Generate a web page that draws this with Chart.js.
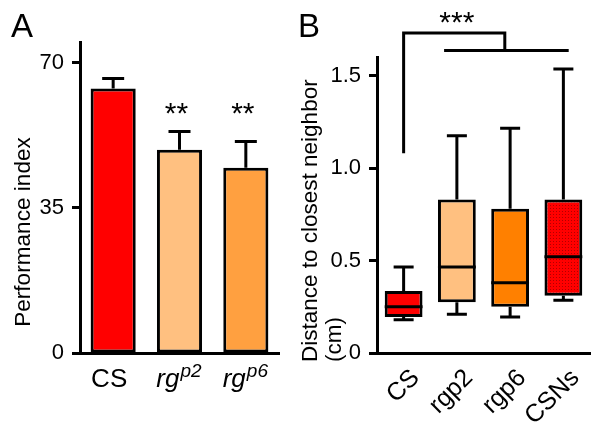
<!DOCTYPE html>
<html>
<head>
<meta charset="utf-8">
<script src="https://cdn.jsdelivr.net/npm/chart.js@4.4.0/dist/chart.umd.min.js"></script>
<style>
    html, body { margin: 0; padding: 0; background: #fff; }
    #wrap { position: relative; width: 602px; height: 434px; }
    canvas { position: absolute; top: 0; }
    #perfChart { left: 0; }
    #distChart { left: 300px; }
</style>
</head>
<body>
<div id="wrap">
    <canvas id="perfChart" width="300" height="434"></canvas>
    <canvas id="distChart" width="302" height="434"></canvas>
</div>
<script>
// panel A - performance index (mean + sem)
const perfBase = ['CS', 'rg', 'rg'];
const perfSup = ['', 'p2', 'p6'];
const perfMean = [63.8, 49.0, 44.7];
const perfSem = [2.4, 4.4, 6.3];
const perfStars = ['', '**', '**'];
const perfTicks = [0, 35, 70];
const perfColors = ['#ff0000', '#ffc080', '#ffa040'];

// panel B - distance to closest neighbor (box plot)
const distLabels = ['CS', 'rgp2', 'rgp6', 'CSNs'];
const distMin = [0.18, 0.21, 0.195, 0.285];
const distQ1 = [0.195, 0.275, 0.25, 0.31];
const distMedian = [0.25, 0.465, 0.38, 0.52];
const distQ3 = [0.335, 0.83, 0.78, 0.83];
const distMax = [0.465, 1.175, 1.215, 1.535];
const distTicks = [0, 0.5, 1.0, 1.5];
const distColors = ['#ff0000', '#ffc080', '#ff8000', 'dots'];

// significance bracket (category index / value units)
const sigLeft = 0, sigJoin = 1.9, sigFrom = 0.76, sigTo = 3.1;
const sigTop = 1.73, sigBar = 1.635, sigDrop = 1.08, sigText = '***';

const FONT = '"Liberation Sans", Arial, sans-serif';
Chart.defaults.font.family = FONT;
Chart.defaults.color = '#000';

function dotPattern(ctx) {
    const c = document.createElement('canvas');
    c.width = 3; c.height = 3;
    const g = c.getContext('2d');
    g.fillStyle = '#ff0000';
    g.fillRect(0, 0, 3, 3);
    g.fillStyle = '#b00000';
    g.fillRect(1, 1, 1, 1);
    return ctx.createPattern(c, 'repeat');
}

const perfExtras = {
    id: 'perfExtras',
    afterDatasetsDraw(chart) {
        const ctx = chart.ctx;
        const y = chart.scales.y;
        const x = chart.scales.x;
        const bars = chart.getDatasetMeta(0).data;
        ctx.save();
        ctx.strokeStyle = '#000';
        ctx.fillStyle = '#000';
        ctx.lineWidth = 3;
        bars.forEach((bar, i) => {
            const top = y.getPixelForValue(perfMean[i] + perfSem[i]);
            ctx.beginPath();
            ctx.moveTo(bar.x, bar.y);
            ctx.lineTo(bar.x, top);
            ctx.moveTo(bar.x - 11, top);
            ctx.lineTo(bar.x + 11, top);
            ctx.stroke();

            if (perfStars[i]) {
                ctx.font = '30px ' + FONT;
                ctx.textAlign = 'center';
                ctx.textBaseline = 'alphabetic';
                ctx.fillText(perfStars[i], bar.x - 3, 123);
            }

            // category label with italic superscript
            const cx = x.getPixelForTick(i) - (perfSup[i] ? 1 : 4);
            const baseFont = (perfSup[i] ? 'italic ' : '') + '26px ' + FONT;
            const supFont = 'italic 19px ' + FONT;
            ctx.font = baseFont;
            const wb = ctx.measureText(perfBase[i]).width;
            ctx.font = supFont;
            const ws = perfSup[i] ? ctx.measureText(perfSup[i]).width : 0;
            const start = cx - (wb + ws) / 2;
            ctx.textAlign = 'left';
            ctx.font = baseFont;
            ctx.fillText(perfBase[i], start, 387);
            if (perfSup[i]) {
                ctx.font = supFont;
                ctx.fillText(perfSup[i], start + wb + 1, 377);
            }
        });

        // axis title
        ctx.save();
        ctx.translate(30, 232);
        ctx.rotate(-Math.PI / 2);
        ctx.font = '22.6px ' + FONT;
        ctx.textAlign = 'center';
        ctx.textBaseline = 'alphabetic';
        ctx.fillText('Performance index', 0, 0);
        ctx.restore();

        // panel letter
        ctx.font = '33px ' + FONT;
        ctx.textAlign = 'left';
        ctx.fillText('A', 11, 37);
        ctx.restore();
    }
};

const distExtras = {
    id: 'distExtras',
    afterDatasetsDraw(chart) {
        const ctx = chart.ctx;
        const y = chart.scales.y;
        const x = chart.scales.x;
        const boxes = chart.getDatasetMeta(0).data;
        ctx.save();
        ctx.strokeStyle = '#000';
        ctx.fillStyle = '#000';
        ctx.lineWidth = 3;
        boxes.forEach((box, i) => {
            const half = box.width / 2;
            const yMed = y.getPixelForValue(distMedian[i]);
            const yQ1 = y.getPixelForValue(distQ1[i]);
            const yQ3 = y.getPixelForValue(distQ3[i]);
            const yMin = y.getPixelForValue(distMin[i]);
            const yMax = y.getPixelForValue(distMax[i]);
            ctx.beginPath();
            ctx.moveTo(box.x - half, yMed);
            ctx.lineTo(box.x + half, yMed);
            ctx.moveTo(box.x, yQ3);
            ctx.lineTo(box.x, yMax);
            ctx.moveTo(box.x - 10, yMax);
            ctx.lineTo(box.x + 10, yMax);
            ctx.moveTo(box.x, yQ1);
            ctx.lineTo(box.x, yMin);
            ctx.moveTo(box.x - 10, yMin);
            ctx.lineTo(box.x + 10, yMin);
            ctx.stroke();

            // rotated category label
            ctx.save();
            ctx.translate(x.getPixelForTick(i) + 17, 379);
            ctx.rotate(-Math.PI / 4);
            ctx.font = '25px ' + FONT;
            ctx.textAlign = 'right';
            ctx.textBaseline = 'alphabetic';
            ctx.fillText(distLabels[i], 0, 0);
            ctx.restore();
        });

        // significance bracket
        const xl = x.getPixelForValue(sigLeft);
        const xj = x.getPixelForValue(sigJoin);
        const xf = x.getPixelForValue(sigFrom);
        const xt = x.getPixelForValue(sigTo);
        const yt = y.getPixelForValue(sigTop);
        const yb = y.getPixelForValue(sigBar);
        const yd = y.getPixelForValue(sigDrop);
        ctx.beginPath();
        ctx.moveTo(xl, yd);
        ctx.lineTo(xl, yt);
        ctx.lineTo(xj, yt);
        ctx.lineTo(xj, yb);
        ctx.moveTo(xf, yb);
        ctx.lineTo(xt, yb);
        ctx.stroke();
        ctx.font = '30px ' + FONT;
        ctx.textAlign = 'center';
        ctx.textBaseline = 'alphabetic';
        ctx.fillText(sigText, x.getPixelForValue(1), 32);

        // axis title, two lines
        ctx.save();
        ctx.translate(0, 362);
        ctx.rotate(-Math.PI / 2);
        ctx.font = '22.5px ' + FONT;
        ctx.textAlign = 'left';
        ctx.fillText('Distance to closest neighbor', 0, 17);
        ctx.fillText('(cm)', 0, 41);
        ctx.restore();

        // panel letter
        ctx.font = '33px ' + FONT;
        ctx.textAlign = 'left';
        ctx.fillText('B', -2, 37);
        ctx.restore();
    }
};

new Chart(document.getElementById('perfChart'), {
    type: 'bar',
    data: {
        labels: perfBase.map((b, i) => b + perfSup[i]),
        datasets: [{
            data: perfMean,
            backgroundColor: perfColors,
            borderColor: '#000',
            borderWidth: 3,
            borderSkipped: false,
            barPercentage: 0.68,
            categoryPercentage: 1
        }]
    },
    options: {
        responsive: false,
        animation: false,
        layout: { padding: { left: 0, right: 21, top: 42, bottom: 0 } },
        plugins: { legend: { display: false }, tooltip: { enabled: false } },
        scales: {
            x: {
                grid: { display: false },
                border: { color: '#000', width: 3 },
                ticks: { display: false },
                afterFit: function (s) { s.height = 81; }
            },
            y: {
                min: 0,
                max: 75,
                afterBuildTicks: function (s) { s.ticks = perfTicks.map(v => ({ value: v })); },
                ticks: { font: { size: 22 }, color: '#000', padding: 8 },
                grid: { drawOnChartArea: false, drawTicks: true, tickLength: 8, tickWidth: 3, tickColor: '#000' },
                border: { color: '#000', width: 3 },
                afterFit: function (s) { s.width = 80; }
            }
        }
    },
    plugins: [perfExtras]
});

const distCtx = document.getElementById('distChart').getContext('2d');
const dots = dotPattern(distCtx);

new Chart(distCtx, {
    type: 'bar',
    data: {
        labels: distLabels,
        datasets: [{
            data: distQ1.map((q, i) => [q, distQ3[i]]),
            backgroundColor: distColors.map(c => c === 'dots' ? dots : c),
            borderColor: '#000',
            borderWidth: 3,
            borderSkipped: false,
            barPercentage: 0.71,
            categoryPercentage: 1
        }]
    },
    options: {
        responsive: false,
        animation: false,
        layout: { padding: { left: 0, right: 12, top: 57, bottom: 0 } },
        plugins: { legend: { display: false }, tooltip: { enabled: false } },
        scales: {
            x: {
                grid: { display: false },
                border: { color: '#000', width: 3 },
                ticks: { display: false },
                afterFit: function (s) { s.height = 81; }
            },
            y: {
                min: 0,
                max: 1.6,
                afterBuildTicks: function (s) { s.ticks = distTicks.map(v => ({ value: v })); },
                ticks: {
                    font: { size: 22 },
                    color: '#000',
                    padding: 8,
                    callback: function (v) { return v === 0 ? '0' : v.toFixed(1); }
                },
                grid: { drawOnChartArea: false, drawTicks: true, tickLength: 8, tickWidth: 3, tickColor: '#000' },
                border: { color: '#000', width: 3 },
                afterFit: function (s) { s.width = 77; }
            }
        }
    },
    plugins: [distExtras]
});
</script>
</body>
</html>
